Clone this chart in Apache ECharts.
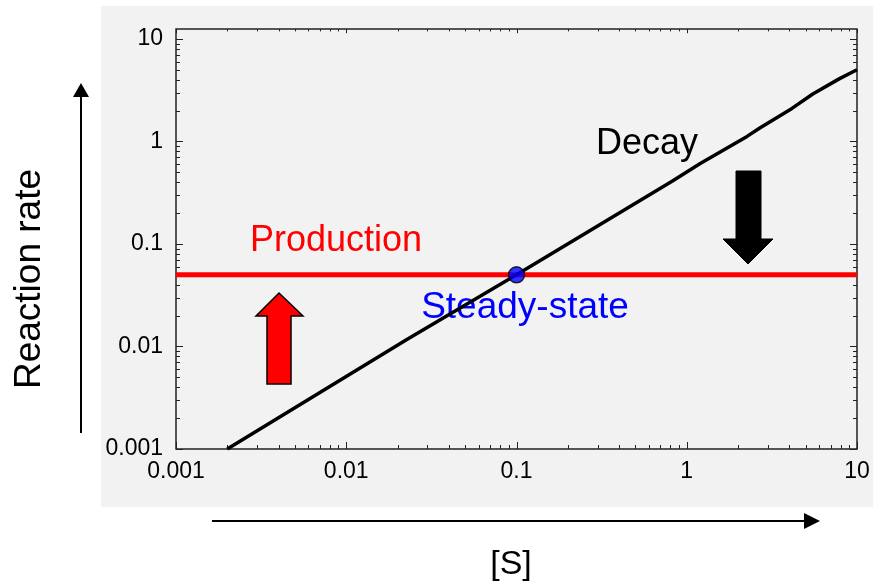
<!DOCTYPE html>
<html>
<head>
<meta charset="utf-8">
<script src="https://cdn.jsdelivr.net/npm/echarts@6/dist/echarts.min.js"></script>
<style>
  html, body { margin: 0; padding: 0; background: #fff; }
  #chart { width: 873px; height: 584px; }
</style>
</head>
<body>
<div id="chart"></div>
<script>
// data
var decayPoints = [
    [0.002, 0.001], [0.0227, 0.0117], [0.1, 0.05], [0.82, 0.41], [1.2, 0.61],
    [2.26, 1.12], [2.7, 1.36], [4.15, 2.1], [5.5, 2.9], [7.9, 4.1], [10, 5.0]
];
var productionRate = 0.05;
var productionRange = [0.001, 10];
var steadyState = [[0.1, 0.05]];

// tick labels / tick positions
var majorTicks = [0.001, 0.01, 0.1, 1, 10];
var minorMult = [2, 3, 4, 5, 6, 7, 8, 9];
var decades = [0.001, 0.01, 0.1, 1];

var FONT = "'Liberation Sans', Arial, sans-serif";

var minorTicks = [];
decades.forEach(function (d) {
    minorMult.forEach(function (m) { minorTicks.push(+(d * m).toPrecision(3)); });
});

var xTickData = majorTicks.map(function (v) { return [v, 1, 7]; })
    .concat(minorTicks.map(function (v) { return [v, 1, 4]; }));
var yTickData = majorTicks.map(function (v) { return [1, v, 7]; })
    .concat(minorTicks.map(function (v) { return [1, v, 4]; }));

function tickRenderer(dim) {
    return function (params, api) {
        var cs = params.coordSys;
        var len = api.value(2);
        var st = { stroke: '#222', lineWidth: 1 };
        var pt = api.coord([api.value(0), api.value(1)]);
        if (dim === 0) {
            var x = Math.round(pt[0]) + 0.5;
            return { type: 'group', children: [
                { type: 'line', shape: { x1: x, y1: cs.y + cs.height, x2: x, y2: cs.y + cs.height - len }, style: st },
                { type: 'line', shape: { x1: x, y1: cs.y, x2: x, y2: cs.y + len * 0.6 }, style: st }
            ] };
        }
        var y = Math.round(pt[1]) + 0.5;
        return { type: 'group', children: [
            { type: 'line', shape: { x1: cs.x, y1: y, x2: cs.x + len, y2: y }, style: st },
            { type: 'line', shape: { x1: cs.x + cs.width, y1: y, x2: cs.x + cs.width - len, y2: y }, style: st }
        ] };
    };
}

function fmt(v) { return String(parseFloat(Number(v).toPrecision(3))); }

var myChart = echarts.init(document.getElementById('chart'));
var option = {
    animation: false,
    grid: {
        left: 176, top: 29, right: 16, bottom: 135,
        containLabel: false,
        outerBoundsMode: 'none',
        show: true,
        backgroundColor: 'transparent',
        borderColor: '#222',
        borderWidth: 1.5
    },
    xAxis: {
        type: 'log', logBase: 10, min: 0.001, max: 10,
        axisLine: { show: false },
        axisTick: { show: false },
        splitLine: { show: false },
        axisLabel: { fontSize: 23, color: '#000', fontFamily: FONT, margin: 11, formatter: fmt }
    },
    yAxis: {
        type: 'log', logBase: 10, min: 0.001, max: 12.5,
        axisLine: { show: false },
        axisTick: { show: false },
        splitLine: { show: false },
        axisLabel: { fontSize: 23, color: '#000', fontFamily: FONT, margin: 13, showMaxLabel: false, formatter: fmt }
    },
    series: [
        {
            name: 'Production', type: 'line', symbol: 'none', z: 3,
            data: [[productionRange[0], productionRate], [productionRange[1], productionRate]],
            lineStyle: { color: '#ff0000', width: 5 }
        },
        {
            name: 'Decay', type: 'line', symbol: 'none', z: 4,
            data: decayPoints,
            lineStyle: { color: '#000', width: 3.5 }
        },
        {
            name: 'Steady-state', type: 'scatter', z: 5,
            data: steadyState, symbolSize: 16,
            itemStyle: { color: '#0000ff', borderColor: '#000', borderWidth: 1.5 }
        },
        {
            type: 'custom', renderItem: tickRenderer(0), data: xTickData,
            encode: { x: 0, y: 1 }, silent: true, z: 2
        },
        {
            type: 'custom', renderItem: tickRenderer(1), data: yTickData,
            encode: { x: 0, y: 1 }, silent: true, z: 2
        }
    ],
    graphic: [
        // gray panel
        { type: 'rect', z: -10, shape: { x: 101, y: 6, width: 772, height: 501 }, style: { fill: '#f2f2f2' } },
        // text annotations
        { type: 'text', x: 336, y: 241, style: { text: 'Production', fill: '#ff0000', font: '36px ' + FONT, align: 'center', verticalAlign: 'middle' } },
        { type: 'text', x: 647, y: 144, style: { text: 'Decay', fill: '#000', font: '36px ' + FONT, align: 'center', verticalAlign: 'middle' } },
        { type: 'text', x: 525, y: 308, style: { text: 'Steady-state', fill: '#0000ff', font: '37px ' + FONT, align: 'center', verticalAlign: 'middle' } },
        { type: 'text', x: 30, y: 279, rotation: Math.PI / 2, style: { text: 'Reaction rate', fill: '#000', font: '37px ' + FONT, align: 'center', verticalAlign: 'middle' } },
        { type: 'text', x: 511, y: 565, style: { text: '[S]', fill: '#000', font: '34px ' + FONT, align: 'center', verticalAlign: 'middle' } },
        // axis arrows
        { type: 'line', shape: { x1: 81, y1: 433, x2: 81, y2: 95 }, style: { stroke: '#000', lineWidth: 2 } },
        { type: 'polygon', shape: { points: [[81, 83], [73, 97], [89, 97]] }, style: { fill: '#000' } },
        { type: 'line', shape: { x1: 212, y1: 521, x2: 808, y2: 521 }, style: { stroke: '#000', lineWidth: 2 } },
        { type: 'polygon', shape: { points: [[820, 521], [804, 513], [804, 529]] }, style: { fill: '#000' } },
        // block arrows
        { type: 'polygon', z: 10, shape: { points: [[279, 293], [303, 316], [291, 316], [291, 384], [267, 384], [267, 316], [256, 316]] },
          style: { fill: '#ff0000', stroke: '#000', lineWidth: 1.5 } },
        { type: 'polygon', z: 10, shape: { points: [[736, 171], [761, 171], [761, 239], [773, 239], [748, 264], [723, 239], [736, 239]] },
          style: { fill: '#000', stroke: '#000', lineWidth: 1 } }
    ]
};
myChart.setOption(option);
</script>
</body>
</html>
